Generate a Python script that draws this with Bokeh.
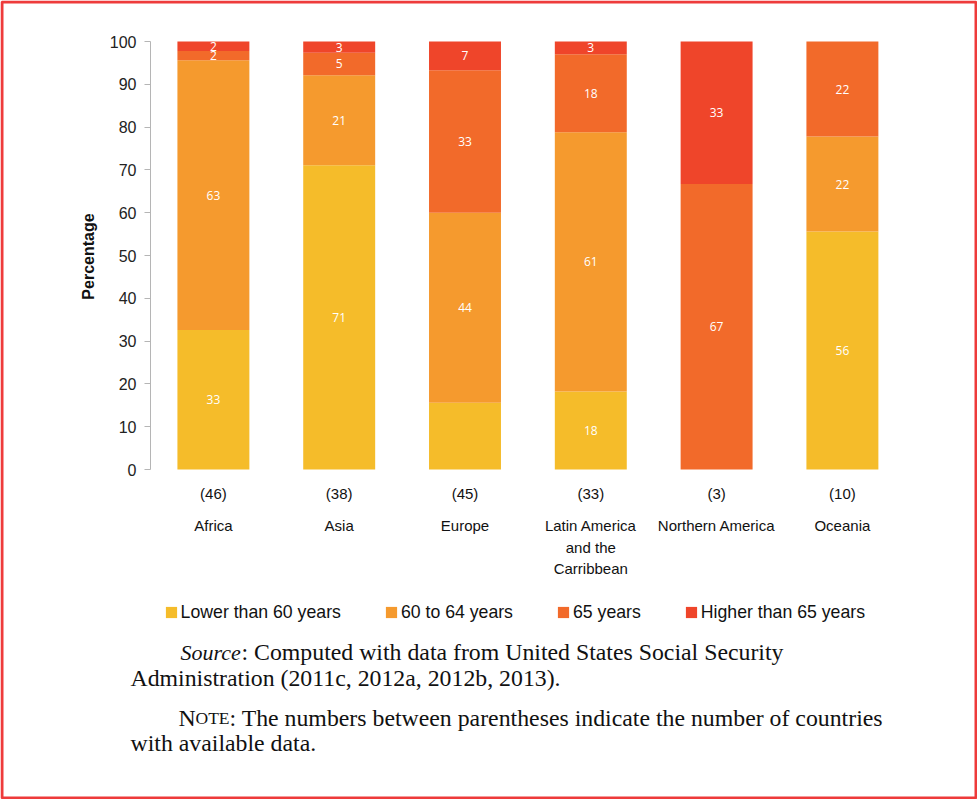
import math
from bokeh.plotting import figure
from bokeh.models import (ColumnDataSource, Range1d, FixedTicker, LabelSet, Label,
                          Legend, LegendItem, BoxAnnotation)
from bokeh.embed import file_html
from bokeh.resources import INLINE
from bokeh.core.properties import value

# ---------------- data ----------------
regions = ["Africa", "Asia", "Europe", "Latin America\nand the\nCarribbean",
           "Northern America", "Oceania"]
counts = ["(46)", "(38)", "(45)", "(33)", "(3)", "(10)"]

series_names = ["Lower than 60 years", "60 to 64 years", "65 years", "Higher than 65 years"]
lower_60 = [32.6, 71.1, 15.6, 18.2, 0.0, 55.6]
from_60_to_64 = [63.0, 21.0, 44.4, 60.6, 0.0, 22.2]
at_65 = [2.2, 5.3, 33.3, 18.2, 66.7, 22.2]
higher_65 = [2.2, 2.6, 6.7, 3.0, 33.3, 0.0]

lower_60_labels = ["33", "71", "", "18", "", "56"]
from_60_to_64_labels = ["63", "21", "44", "61", "", "22"]
at_65_labels = ["2", "5", "33", "18", "67", "22"]
higher_65_labels = ["2", "3", "7", "3", "33", ""]

y_ticks = [0, 10, 20, 30, 40, 50, 60, 70, 80, 90, 100]

colors = ["#F5BC2A", "#F59A2E", "#F26A2A", "#EF452A"]

# ---------------- figure ----------------
W, H = 977, 799
AX_PX = 150.0      # canvas x of the value axis
CAT_PX = 125.8     # px per category
BASE_PY = 469.0    # canvas y of value 0
UNIT_PY = 4.28     # px per percentage point

p = figure(width=W, height=H,
           x_range=Range1d(-AX_PX / CAT_PX, (W - AX_PX) / CAT_PX),
           y_range=Range1d(-(H - BASE_PY) / UNIT_PY, BASE_PY / UNIT_PY),
           output_backend="svg", toolbar_location=None,
           min_border_left=0, min_border_right=0, min_border_top=0,
           min_border_bottom=0)
p.title.visible = False
p.outline_line_color = None
p.background_fill_color = "white"
p.border_fill_color = "white"

xpos = [i + 0.5 for i in range(len(regions))]
series = [lower_60, from_60_to_64, at_65, higher_65]
keys = ["s0", "s1", "s2", "s3"]
data = {"x": xpos}
for k, s in zip(keys, series):
    data[k] = s
src = ColumnDataSource(data)
renderers = p.vbar_stack(keys, x="x", width=0.572, source=src,
                         fill_color=colors, line_color=colors, line_width=0)

# segment labels
label_lists = [lower_60_labels, from_60_to_64_labels, at_65_labels, higher_65_labels]
bottom = [0.0] * len(regions)
for s, labs in zip(series, label_lists):
    mids = [b + v / 2 for b, v in zip(bottom, s)]
    bottom = [b + v for b, v in zip(bottom, s)]
    ls = ColumnDataSource({"x": xpos, "y": mids, "t": labs})
    p.add_layout(LabelSet(x="x", y="y", text="t", source=ls, text_color="white",
                          text_font=value("Open Sans"), text_font_size="12px",
                          text_align="center", text_baseline="middle"))

# axes
p.xaxis.visible = False
p.xgrid.visible = False
p.ygrid.visible = False
ax = p.yaxis[0]
ax.fixed_location = 0
ax.bounds = (0, 100)
ax.ticker = FixedTicker(ticks=y_ticks)
ax.minor_tick_line_color = None
ax.axis_line_color = "#B5B5B5"
ax.major_tick_line_color = "#B5B5B5"
ax.major_tick_out = 6
ax.major_tick_in = 0
ax.major_label_text_font = "Liberation Sans"
ax.major_label_text_font_size = "16px"
ax.major_label_text_color = "#222222"
ax.major_label_standoff = 8

def scr(px, py):
    return px, H - py

# y axis title
lx, ly = scr(88, 256)
p.add_layout(Label(x=lx, y=ly, x_units="screen", y_units="screen", text="Percentage",
                   angle=math.pi / 2, text_font="Liberation Sans", text_font_size="16px",
                   text_font_style="bold", text_color="#111111",
                   text_align="center", text_baseline="middle"))

# category labels below the bars
cat_src = ColumnDataSource({
    "x": xpos,
    "c": counts,
    "l1": [r.split("\n")[0] for r in regions],
    "l2": [r.split("\n")[1] if r.count("\n") >= 1 else "" for r in regions],
    "l3": [r.split("\n")[2] if r.count("\n") >= 2 else "" for r in regions],
})
for col, py in [("c", 493), ("l1", 525), ("l2", 547), ("l3", 568)]:
    p.add_layout(LabelSet(x="x", y=H - py, y_units="screen", text=col, source=cat_src,
                          text_font=value("Liberation Sans"), text_font_size="15px",
                          text_color="#111111", text_align="center",
                          text_baseline="middle"))

# legend
items = [LegendItem(label=n, renderers=[r]) for n, r in zip(series_names, renderers)]
legend = Legend(items=items, location=(163.6, H - 622.8), orientation="horizontal",
                glyph_width=14, glyph_height=14, label_standoff=3, spacing=43,
                padding=0, margin=0, border_line_color=None,
                background_fill_alpha=0, label_text_font="Liberation Sans",
                label_text_font_size="17.7px", label_height=14,
                label_text_color="#111111")
p.add_layout(legend)

# source / note text (py = wanted baseline; Bokeh draws ~4.5px lower)
def note(txt, px, py, size="23.8px", style="normal"):
    x, y = scr(px, py - 4.5)
    p.add_layout(Label(x=x, y=y, x_units="screen", y_units="screen",
                       text=txt, text_font="Liberation Serif", text_font_size=size,
                       text_font_style=style, text_color="#111111",
                       text_baseline="alphabetic", text_align="left"))

note("Source", 180, 656, size="22px", style="italic")
note(": Computed with data from United States Social Security", 241, 656)
note("Administration (2011c, 2012a, 2012b, 2013).", 130, 681.5)
note("N", 178, 722)
note("OTE", 195, 722, size="17.5px")
note(": The numbers between parentheses indicate the number of countries", 229, 722)
note("with available data.", 130, 747)

# red frame around the whole figure
p.add_layout(BoxAnnotation(left=1.5, right=W - 1.5, bottom=1.5, top=H - 1.5,
                           left_units="screen", right_units="screen",
                           bottom_units="screen", top_units="screen",
                           fill_alpha=0, line_color="#EE3B3B", line_alpha=1.0,
                           line_width=3))

open("out.html", "w").write(file_html(p, INLINE))
